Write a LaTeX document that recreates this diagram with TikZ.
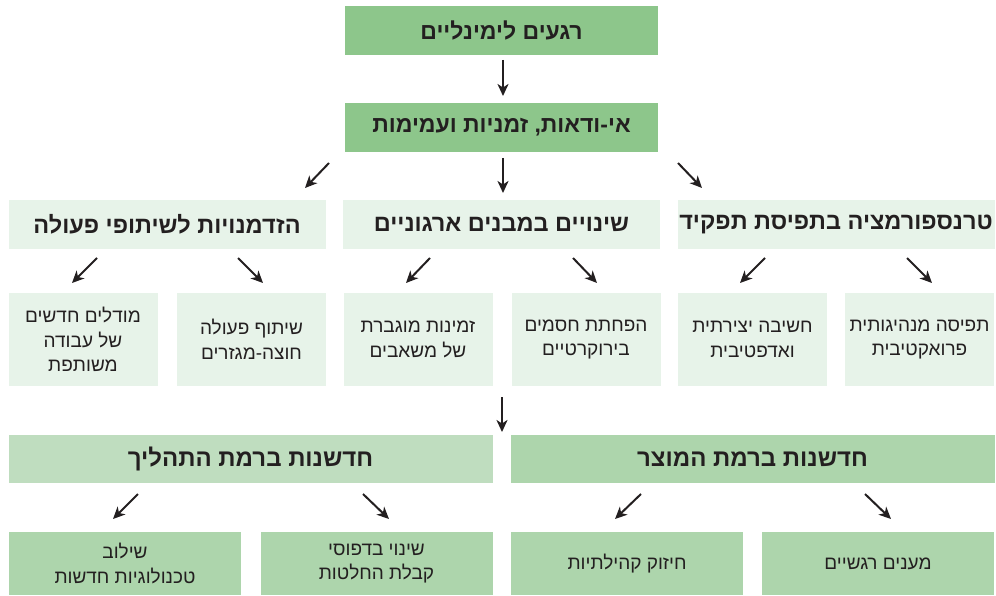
\documentclass[tikz,border=0pt]{standalone}
\usepackage{fontspec}
\TeXXeTstate=1
\newfontfamily\hebfont[Script=Hebrew]{Liberation Sans}
\usetikzlibrary{arrows.meta}
\definecolor{midgreen}{HTML}{8DC68B}
\definecolor{palegreen}{HTML}{E7F3E9}
\definecolor{lightgreen}{HTML}{BFDDBF}
\definecolor{softgreen}{HTML}{ADD5AC}
\definecolor{ink}{HTML}{231F20}
\newcommand{\heb}[1]{\beginR #1\endR}
\tikzset{
  box/.style={inner sep=0pt, outer sep=0pt, text=ink, align=center, font=\hebfont},
  headA/.style={box, fill=midgreen, minimum width=313pt, minimum height=49pt, font=\hebfont\bfseries\fontsize{23}{27}\selectfont},
  headB/.style={box, fill=palegreen, minimum width=317pt, minimum height=49pt, font=\hebfont\bfseries\fontsize{23.5}{27}\selectfont},
  leafB/.style={box, fill=palegreen, minimum width=149pt, minimum height=93pt, font=\hebfont\fontsize{19}{24.5}\selectfont},
  headC/.style={box, minimum width=484pt, minimum height=48pt, font=\hebfont\bfseries\fontsize{24}{27}\selectfont},
  leafC/.style={box, fill=softgreen, minimum width=232pt, minimum height=63pt, font=\hebfont\fontsize{19}{24.5}\selectfont},
  arr/.style={draw=ink, line width=2pt, -{Stealth[length=12pt,width=11pt,inset=3.5pt]}}
}
\begin{document}
\begin{tikzpicture}[x=1pt,y=-1pt]
\useasboundingbox (0,0) rectangle (996,596);
% top
\node[headA] (top) at (501.5,30.5) {\heb{רגעים לימינליים}};
\node[headA] (unc) at (501.5,127.5) {\heb{אי-ודאות, זמניות ועמימות}};
% row 3 headers
\node[headB] (h1) at (167,224.5) {\heb{הזדמנויות לשיתופי פעולה}};
\node[headB] (h2) at (501.5,224.5) {\heb{שינויים במבנים ארגוניים}};
\node[headB] (h3) at (836,224.5) {\heb{טרנספורמציה בתפיסת תפקיד}};
% row 4 leaves
\node[leafB] (l1) at (83,339.5) {\heb{מודלים חדשים}\\\heb{של עבודה}\\\heb{משותפת}};
\node[leafB] (l2) at (251.5,339.5) {\heb{שיתוף פעולה}\\\heb{חוצה-מגזרים}};
\node[leafB] (l3) at (418,339.5) {\heb{זמינות מוגברת}\\\heb{של משאבים}};
\node[leafB] (l4) at (586,339.5) {\heb{הפחתת חסמים}\\\heb{בירוקרטיים}};
\node[leafB] (l5) at (752.5,339.5) {\heb{חשיבה יצירתית}\\\heb{ואדפטיבית}};
\node[leafB] (l6) at (919.5,339.5) {\heb{תפיסה מנהיגותית}\\\heb{פרואקטיבית}};
% bottom headers
\node[headC, fill=lightgreen] (p1) at (250.5,459) {\heb{חדשנות ברמת התהליך}};
\node[headC, fill=softgreen] (p2) at (752.5,459) {\heb{חדשנות ברמת המוצר}};
% bottom leaves
\node[leafC] (q1) at (125,563.5) {\heb{שילוב}\\\heb{טכנולוגיות חדשות}};
\node[leafC] (q2) at (376.5,563.5) {\heb{שינוי בדפוסי}\\\heb{קבלת החלטות}};
\node[leafC] (q3) at (627,563.5) {\heb{חיזוק קהילתיות}};
\node[leafC] (q4) at (878,563.5) {\heb{מענים רגשיים}};
% arrows
\draw[arr, shorten <=5pt, shorten >=7pt] ([xshift=1.5pt]top.south) -- ([xshift=1.5pt]unc.north);
\draw[arr, shorten <=6pt, shorten >=7pt] ([xshift=1.5pt]unc.south) -- ([xshift=1.5pt]h2.north);
\coordinate (s1) at (329,163); \coordinate (e1) at (305,188);
\coordinate (s2) at (678,163); \coordinate (e2) at (702,188);
\draw[arr] (s1) -- (e1);
\draw[arr] (s2) -- (e2);
\coordinate (s3) at (97,258);  \coordinate (e3) at (72,283);
\coordinate (s4) at (238,258); \coordinate (e4) at (263,283);
\coordinate (s5) at (430,258); \coordinate (e5) at (406,283);
\coordinate (s6) at (573,258); \coordinate (e6) at (597,283);
\coordinate (s7) at (765,258); \coordinate (e7) at (740,283);
\coordinate (s8) at (907,258); \coordinate (e8) at (932,283);
\foreach \i in {3,...,8} {\draw[arr] (s\i) -- (e\i);}
\coordinate (s9) at (502,397); \coordinate (e9) at (502,432);
\draw[arr] (s9) -- (e9);
\coordinate (s10) at (138,494); \coordinate (e10) at (113,519);
\coordinate (s11) at (363,494); \coordinate (e11) at (389,519);
\coordinate (s12) at (641,494); \coordinate (e12) at (615,519);
\coordinate (s13) at (865,494); \coordinate (e13) at (891,519);
\foreach \i in {10,...,13} {\draw[arr] (s\i) -- (e\i);}
\end{tikzpicture}
\end{document}
